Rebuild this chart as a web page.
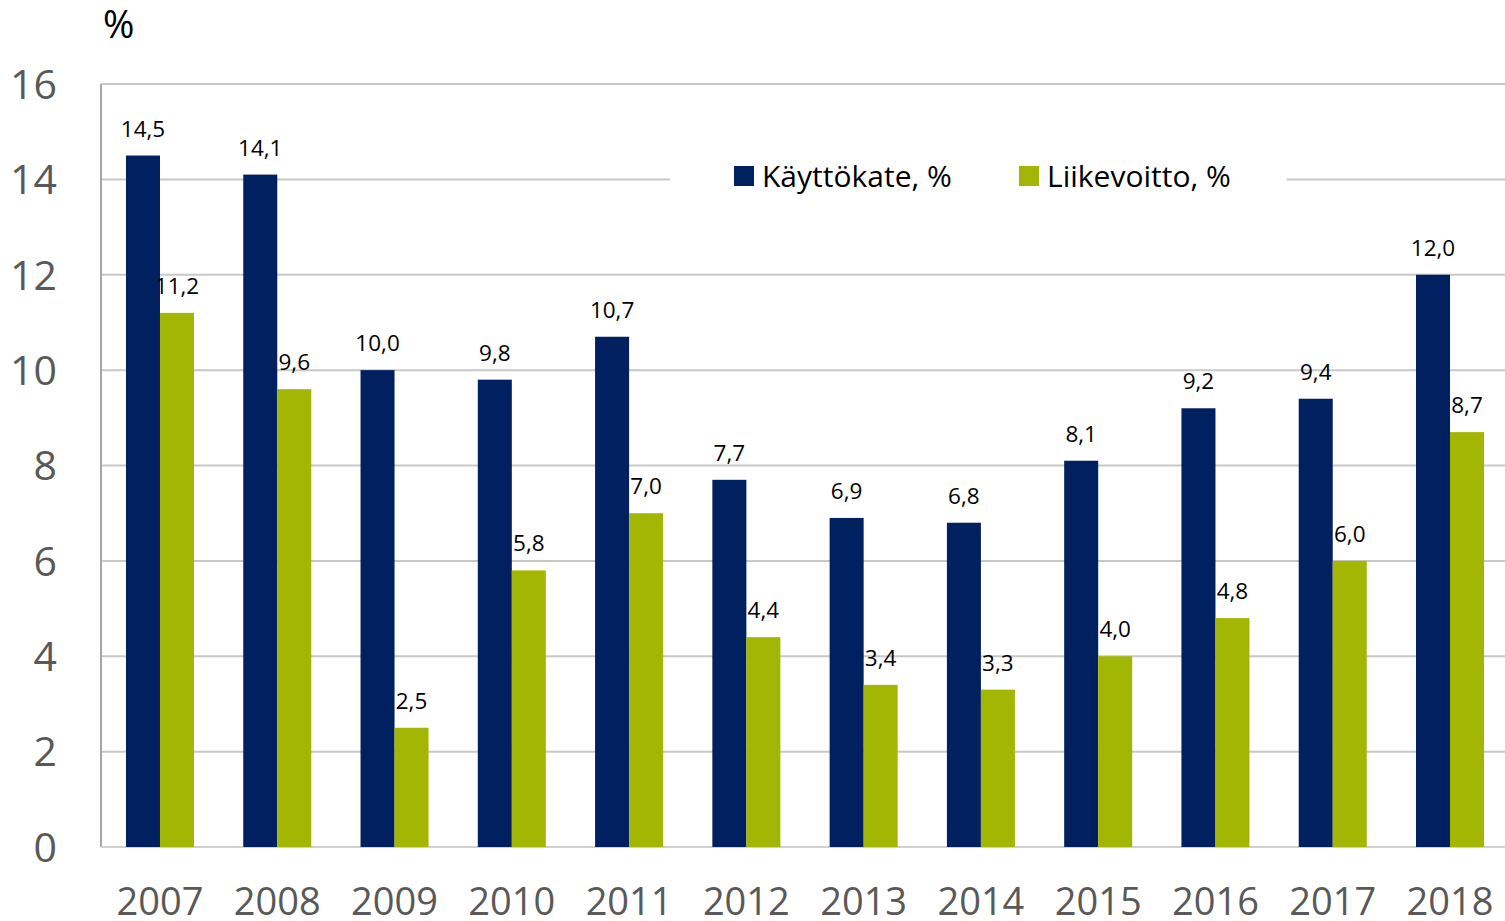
<!DOCTYPE html>
<html>
<head>
<meta charset="utf-8">
<script src="https://cdn.jsdelivr.net/npm/d3@7"></script>
<style>
  body { margin: 0; background: #fff; }
  svg { display: block; font-family: 'Open Sans', sans-serif; }
</style>
</head>
<body>
<div id="chart"></div>
<script>
const years = ['2007', '2008', '2009', '2010', '2011', '2012', '2013', '2014', '2015', '2016', '2017', '2018']
const kayttokate = [14.5, 14.1, 10.0, 9.8, 10.7, 7.7, 6.9, 6.8, 8.1, 9.2, 9.4, 12.0]
const liikevoitto = [11.2, 9.6, 2.5, 5.8, 7.0, 4.4, 3.4, 3.3, 4.0, 4.8, 6.0, 8.7]
const seriesNames = ['Käyttökate, %', 'Liikevoitto, %']
const yTicks = [0, 2, 4, 6, 8, 10, 12, 14, 16]

const colors = ['#002060', '#A2B603']

const totalWidth = 1505
const totalHeight = 921
const margin = { top: 84, right: 0, bottom: 74, left: 101 }
// plot area runs a few px past the right edge of the picture
const width = 1408
const height = totalHeight - margin.top - margin.bottom

const svg = d3
  .select('#chart')
  .append('svg')
  .attr('width', totalWidth)
  .attr('height', totalHeight)

const g = svg
  .append('g')
  .attr('transform', 'translate(' + margin.left + ',' + margin.top + ')')

const xPositionScale = d3
  .scaleBand()
  .domain(years)
  .range([0, width])
  .paddingInner(0.42)
  .paddingOuter(0.213)

const xSubScale = d3
  .scaleBand()
  .domain([0, 1])
  .range([0, xPositionScale.bandwidth()])

const yPositionScale = d3
  .scaleLinear()
  .domain([0, 16])
  .range([height, 0])

const rows = years.map((year, i) => {
  return { year: year, values: [kayttokate[i], liikevoitto[i]] }
})

// gridlines
g.append('g')
  .attr('class', 'grid')
  .selectAll('line')
  .data(yTicks.filter(d => d > 0))
  .enter()
  .append('line')
  .attr('x1', 0)
  .attr('x2', width)
  .attr('y1', d => yPositionScale(d))
  .attr('y2', d => yPositionScale(d))
  .attr('stroke', '#c8c8c8')
  .attr('stroke-width', 2)

// left + bottom axis lines
g.append('line')
  .attr('x1', 0).attr('x2', 0)
  .attr('y1', 0).attr('y2', height)
  .attr('stroke', '#a6a6a6')
  .attr('stroke-width', 2)

g.append('line')
  .attr('x1', 0).attr('x2', width)
  .attr('y1', height).attr('y2', height)
  .attr('stroke', '#d0d0d0')
  .attr('stroke-width', 2)

// y tick labels
g.append('g')
  .selectAll('text')
  .data(yTicks)
  .enter()
  .append('text')
  .attr('x', 57 - margin.left)
  .attr('y', d => yPositionScale(d))
  .attr('dy', '0.36em')
  .attr('text-anchor', 'end')
  .attr('font-size', 41)
  .attr('fill', '#595959')
  .text(d => d)

// x labels
g.append('g')
  .selectAll('text')
  .data(years)
  .enter()
  .append('text')
  .attr('x', d => xPositionScale(d) + xPositionScale.bandwidth() / 2)
  .attr('y', height + 68)
  .attr('text-anchor', 'middle')
  .attr('font-size', 38)
  .attr('fill', '#595959')
  .text(d => d)

// axis title
svg.append('text')
  .attr('x', 103)
  .attr('y', 38)
  .attr('font-size', 38)
  .attr('fill', '#000')
  .text('%')

// bars
const groups = g
  .selectAll('.year')
  .data(rows)
  .enter()
  .append('g')
  .attr('class', 'year')
  .attr('transform', d => 'translate(' + xPositionScale(d.year) + ',0)')

groups
  .selectAll('rect')
  .data(d => d.values)
  .enter()
  .append('rect')
  .attr('x', (d, i) => xSubScale(i))
  .attr('y', d => yPositionScale(d))
  .attr('width', xSubScale.bandwidth())
  .attr('height', d => height - yPositionScale(d))
  .attr('fill', (d, i) => colors[i])

groups
  .selectAll('text')
  .data(d => d.values)
  .enter()
  .append('text')
  .attr('x', (d, i) => xSubScale(i) + xSubScale.bandwidth() / 2)
  .attr('y', d => yPositionScale(d) - 19)
  .attr('text-anchor', 'middle')
  .attr('font-size', 22.5)
  .attr('fill', '#000')
  .text(d => d3.format('.1f')(d).replace('.', ','))

// legend
const legend = svg.append('g').attr('class', 'legend')

legend.append('rect')
  .attr('x', 670)
  .attr('y', 160)
  .attr('width', 617)
  .attr('height', 34)
  .attr('fill', '#fff')

const legendX = [734, 1019]
seriesNames.forEach((name, i) => {
  legend.append('rect')
    .attr('x', legendX[i])
    .attr('y', 166)
    .attr('width', 20)
    .attr('height', 20)
    .attr('fill', colors[i])
  legend.append('text')
    .attr('x', legendX[i] + 28)
    .attr('y', 187)
    .attr('font-size', 30)
    .attr('fill', '#000')
    .text(name)
})
</script>
</body>
</html>
